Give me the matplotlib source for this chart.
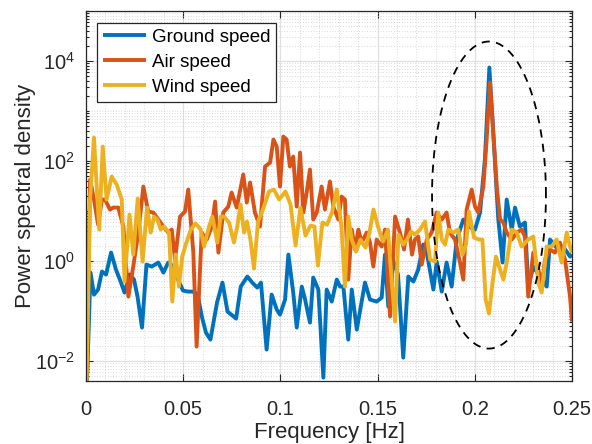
import numpy as np
import matplotlib.pyplot as plt
from matplotlib.ticker import LogLocator, MultipleLocator, NullFormatter

plt.rcParams['font.family'] = ['Liberation Sans', 'DejaVu Sans']
plt.rcParams['mathtext.fontset'] = 'custom'
plt.rcParams['mathtext.rm'] = 'Liberation Sans'

# PSD estimates, frequency in Hz and level in dB (10*log10 of the PSD)
ground_freq = [0.0, 0.0023, 0.0041, 0.0062, 0.0082, 0.0103, 0.0129, 0.0154, 0.0180, 0.0198,
               0.0224, 0.0247, 0.0265, 0.0288, 0.0311, 0.0338, 0.0372, 0.0398, 0.0423, 0.0449,
               0.0473, 0.0499, 0.0525, 0.0550, 0.0574, 0.0597, 0.0617, 0.0640, 0.0674, 0.0702,
               0.0728, 0.0772, 0.0796, 0.0830, 0.0855, 0.0881, 0.0900, 0.0929, 0.0955, 0.0981,
               0.0998, 0.1024, 0.1041, 0.1066, 0.1084, 0.1110, 0.1127, 0.1152, 0.1169, 0.1195,
               0.1221, 0.1238, 0.1264, 0.1290, 0.1307, 0.1324, 0.1349, 0.1367, 0.1393, 0.1435,
               0.1461, 0.1495, 0.1521, 0.1538, 0.1555, 0.1573, 0.1605, 0.1632, 0.1658, 0.1684,
               0.1709, 0.1735, 0.1753, 0.1787, 0.1804, 0.1830, 0.1855, 0.1881, 0.1907, 0.1941,
               0.1967, 0.2001, 0.2027, 0.2052, 0.2075, 0.2095, 0.2121, 0.2143, 0.2164, 0.2190,
               0.2207, 0.2232, 0.2258, 0.2275, 0.2301, 0.2335, 0.2370, 0.2387, 0.2421, 0.2455,
               0.2490, 0.2500]
ground_db = [-30.0, -2.3, -6.7, -5.7, -2.1, -2.7, 1.7, -1.7, -4.3, -6.3,
             -2.7, -3.7, -7.1, -13.3, -0.7, -1.1, -0.3, -2.3, -0.3, -1.1,
             -3.7, -5.9, -6.1, -6.1, -6.7, -11.3, -14.3, -15.7, -8.3, -4.3,
             -10.1, -11.5, -5.1, -3.1, -4.3, -5.3, -4.3, -17.7, -6.7, -9.7,
             -10.7, -7.7, 1.3, -6.3, -13.3, -5.1, -7.7, -12.3, -3.3, -5.7,
             -23.3, -5.7, -8.1, -3.7, -5.1, -5.1, -15.7, -5.7, -13.7, -4.3,
             -7.7, -8.1, -7.3, 1.3, -9.1, 0.9, -2.7, -19.3, -3.1, -4.1,
             -1.7, 3.3, 1.7, -5.7, -0.1, -6.1, -0.3, -5.1, 4.3, 8.3,
             6.9, 6.3, 9.7, 20.3, 38.7, 25.7, 8.3, -0.3, 12.3, 6.3,
             10.7, 6.9, 7.7, -5.1, -1.1, -3.1, -5.1, 4.3, 2.7, 2.9,
             0.9, 1.3]

air_freq = [0.0, 0.0021, 0.0041, 0.0062, 0.0082, 0.0098, 0.0123, 0.0140, 0.0166, 0.0192,
            0.0218, 0.0243, 0.0269, 0.0295, 0.0320, 0.0346, 0.0372, 0.0398, 0.0423, 0.0441,
            0.0458, 0.0484, 0.0509, 0.0526, 0.0552, 0.0569, 0.0595, 0.0621, 0.0647, 0.0664,
            0.0681, 0.0706, 0.0732, 0.0749, 0.0775, 0.0809, 0.0827, 0.0844, 0.0869, 0.0895,
            0.0921, 0.0947, 0.0964, 0.0981, 0.0998, 0.1015, 0.1032, 0.1049, 0.1066, 0.1084,
            0.1101, 0.1118, 0.1135, 0.1152, 0.1169, 0.1187, 0.1212, 0.1229, 0.1255, 0.1272,
            0.1298, 0.1315, 0.1332, 0.1349, 0.1367, 0.1384, 0.1401, 0.1418, 0.1444, 0.1461,
            0.1478, 0.1495, 0.1521, 0.1538, 0.1564, 0.1590, 0.1615, 0.1636, 0.1656, 0.1677,
            0.1692, 0.1709, 0.1727, 0.1753, 0.1778, 0.1804, 0.1830, 0.1855, 0.1872, 0.1898,
            0.1924, 0.1941, 0.1958, 0.1984, 0.2001, 0.2018, 0.2044, 0.2061, 0.2078, 0.2095,
            0.2113, 0.2130, 0.2147, 0.2164, 0.2190, 0.2216, 0.2241, 0.2258, 0.2275, 0.2301,
            0.2327, 0.2344, 0.2361, 0.2387, 0.2412, 0.2438, 0.2464, 0.2490, 0.2500]
air_db = [-30.0, 16.3, 12.3, 7.3, 12.3, 12.3, 10.3, 10.7, 10.7, 6.9,
          -7.1, -1.1, 5.7, 14.9, 9.9, 9.7, 8.3, 6.9, 5.7, 6.3,
          0.3, 8.9, 9.9, 14.3, 1.7, -17.1, 5.7, 4.3, 6.9, 11.9,
          1.7, 9.7, 10.9, 13.7, 10.7, 17.3, 11.7, 15.7, 9.7, 6.9,
          18.9, 19.7, 24.3, 22.9, 14.9, 24.9, 24.3, 18.9, 20.9, 10.9,
          21.7, 9.7, 13.7, 18.3, 8.3, 9.7, 14.9, 10.3, 15.9, 10.9,
          8.3, 12.9, 12.3, -3.7, 6.3, 2.3, 6.3, 3.7, 5.7, 3.7,
          -1.1, 4.3, 2.9, 6.3, -11.1, 8.9, 5.7, 2.3, 8.3, 1.3,
          4.3, 4.9, -0.7, 4.3, 5.7, 9.7, 8.3, 9.7, 5.7, 4.3,
          -0.3, -3.7, 10.3, 14.3, 10.9, 9.7, 14.9, 24.3, 35.7, 25.7,
          14.9, 8.3, 7.7, 5.7, 4.3, 5.7, 6.3, 4.9, -7.1, 1.7,
          -1.7, -5.1, 0.3, 2.3, 1.7, 3.7, 0.3, -7.1, -12.1]

wind_freq = [0.0, 0.0021, 0.0041, 0.0055, 0.0068, 0.0086, 0.0106, 0.0132, 0.0158, 0.0184,
             0.0198, 0.0224, 0.0243, 0.0266, 0.0291, 0.0314, 0.0333, 0.0350, 0.0367, 0.0384,
             0.0401, 0.0427, 0.0444, 0.0461, 0.0478, 0.0495, 0.0513, 0.0539, 0.0564, 0.0590,
             0.0607, 0.0633, 0.0650, 0.0675, 0.0693, 0.0710, 0.0736, 0.0761, 0.0778, 0.0795,
             0.0813, 0.0828, 0.0846, 0.0864, 0.0885, 0.0910, 0.0941, 0.0967, 0.0993, 0.1026,
             0.1052, 0.1078, 0.1103, 0.1129, 0.1155, 0.1175, 0.1193, 0.1216, 0.1240, 0.1265,
             0.1290, 0.1314, 0.1332, 0.1349, 0.1367, 0.1389, 0.1412, 0.1438, 0.1458, 0.1479,
             0.1505, 0.1528, 0.1553, 0.1572, 0.1590, 0.1607, 0.1632, 0.1651, 0.1672, 0.1692,
             0.1718, 0.1744, 0.1770, 0.1795, 0.1812, 0.1830, 0.1847, 0.1864, 0.1889, 0.1915,
             0.1937, 0.1955, 0.1970, 0.1996, 0.2022, 0.2039, 0.2056, 0.2073, 0.2090, 0.2109,
             0.2130, 0.2147, 0.2164, 0.2190, 0.2216, 0.2241, 0.2275, 0.2301, 0.2327, 0.2344,
             0.2370, 0.2396, 0.2421, 0.2447, 0.2473, 0.2490, 0.2500]
wind_db = [-30.0, 12.3, 24.7, 14.9, 6.3, 22.9, 12.3, 16.9, 15.3, 12.3,
           -4.1, 9.3, 1.3, 12.5, -0.1, 10.7, 5.7, 8.9, 8.3, 6.3,
           6.9, 5.7, -8.1, 1.3, -5.1, 0.9, 3.3, 6.3, 7.5, 6.3,
           2.9, 6.9, 8.9, 3.7, 8.9, 8.9, 7.7, 3.7, 6.9, 11.3,
           5.7, 7.9, 4.3, -1.5, 7.9, 10.3, 13.9, 14.3, 12.3, 13.9,
           11.3, 3.1, 10.7, 5.1, 7.1, 6.9, -0.9, 7.7, 7.3, 9.7,
           14.3, 6.9, -5.1, 8.9, 4.3, 1.9, 4.3, 2.7, 5.7, 10.3,
           6.5, 3.9, 6.3, -3.7, -12.1, 5.3, 3.3, 4.3, 5.9, 5.3,
           6.3, 7.9, 0.3, -0.1, 9.7, 4.3, 3.3, 6.3, 5.7, 6.3,
           1.3, 3.3, 9.9, 4.7, 4.3, 4.3, -7.7, -10.5, -4.7, 0.9,
           -1.7, -3.7, -0.3, 6.3, 5.7, 2.9, 4.3, 4.9, -4.3, -6.3,
           2.9, 2.9, 4.3, -0.3, 5.7, 2.9, 1.7]

series_labels = ['Ground speed', 'Air speed', 'Wind speed']
series_colors = ['#0072BD', '#D95319', '#EDB120']

# dashed ellipse around the peak: centre/half-width in Hz, centre/half-height in decades
ring_freq_center, ring_freq_half = 0.2073, 0.0293
ring_dec_center, ring_dec_half = 1.32, 3.07


fig = plt.figure(figsize=(5.92, 4.44), dpi=100)
ax = fig.add_axes([0.1453, 0.1419, 0.8209, 0.8333])

for freq, db, label, color in zip([ground_freq, air_freq, wind_freq],
                                  [ground_db, air_db, wind_db],
                                  series_labels, series_colors):
    psd = 10 ** (np.array(db) / 10)
    ax.plot(freq, psd, color=color, lw=2.8, label=label,
            solid_joinstyle='round', solid_capstyle='butt')

t = np.linspace(0, 2 * np.pi, 400)
ax.plot(ring_freq_center + ring_freq_half * np.cos(t),
        10 ** (ring_dec_center + ring_dec_half * np.sin(t)),
        color='black', lw=1.3, dashes=(4.5, 3.5))

ax.set_yscale('log')
ax.set_xlim(0, 0.25)
ax.set_ylim(4e-3, 1e5)
ax.set_xticks([0, 0.05, 0.1, 0.15, 0.2, 0.25])
ax.set_xticklabels(['0', '0.05', '0.1', '0.15', '0.2', '0.25'])
ax.xaxis.set_minor_locator(MultipleLocator(0.01))
ax.set_yticks([1e-2, 1e0, 1e2, 1e4])
ax.yaxis.set_minor_locator(LogLocator(base=10, subs=np.arange(1, 10), numticks=20))
ax.yaxis.set_minor_formatter(NullFormatter())

ax.grid(True, which='major', color='#e0e0e0', lw=0.9, ls='-')
ax.grid(True, which='minor', color='#c4c4c4', lw=0.55, ls=(0, (1, 2.5)))
ax.set_axisbelow(True)

ax.tick_params(which='both', direction='in', top=True, right=True,
               colors='#262626', labelsize=14.5, width=0.8)
ax.tick_params(which='major', length=5)
ax.tick_params(which='minor', length=2.5)
ax.tick_params(axis='x', which='minor', length=0)
ax.tick_params(axis='x', pad=14)
ax.tick_params(axis='y', pad=8)
for spine in ax.spines.values():
    spine.set_color('#262626')
    spine.set_linewidth(0.9)

ax.set_xlabel('Frequency [Hz]', fontsize=16, color='#262626', labelpad=2)
ax.set_ylabel('Power spectral density', fontsize=16, color='#262626', labelpad=-1)

leg = ax.legend(loc='upper left', bbox_to_anchor=(0.023, 0.968), fontsize=13.5,
                handlelength=2.3, handletextpad=0.3, labelspacing=0.42,
                borderpad=0.32, borderaxespad=0.0, fancybox=False, framealpha=1)
leg.get_frame().set_edgecolor('#262626')
leg.get_frame().set_linewidth(0.9)

fig.savefig('out.png', dpi=100)
